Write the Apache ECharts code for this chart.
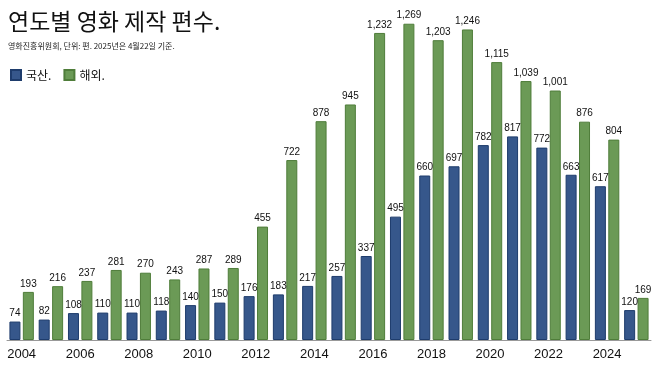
<!DOCTYPE html>
<html><head><meta charset="utf-8">
<script src="https://cdn.jsdelivr.net/npm/echarts@6/dist/echarts.min.js"></script>
<style>html,body{margin:0;padding:0;background:#fff}#c{width:658px;height:370px}</style>
</head><body><div id="c"></div>
<script>
const years = ['2004','2005','2006','2007','2008','2009','2010','2011','2012','2013','2014','2015','2016','2017','2018','2019','2020','2021','2022','2023','2024','2025'];
const domestic = [74,82,108,110,110,118,140,150,176,183,217,257,337,495,660,697,782,817,772,663,617,120];
const overseas = [193,216,237,281,270,243,287,289,455,722,878,945,1232,1269,1203,1246,1115,1039,1001,876,804,169];
const titleText = '연도별 영화 제작 편수.';
const subtitleText = '영화진흥위원회, 단위: 편. 2025년은 4월22일 기준.';
const seriesNames = ['국산.', '해외.'];

const font = '"Liberation Sans", Arial, "Noto Sans CJK KR", sans-serif';
const chart = echarts.init(document.getElementById('c'), null, {renderer: 'canvas'});
const fmt = p => p.value.toLocaleString('en-US');
chart.setOption({
  animation: false,
  textStyle: {fontFamily: font},
  title: {
    text: titleText, subtext: subtitleText, left: 3, top: 5, itemGap: 9,
    textStyle: {fontSize: 23, fontWeight: 'normal', color: '#111', fontFamily: '"Noto Sans CJK KR", sans-serif'},
    subtextStyle: {fontSize: 8, color: '#222', fontFamily: '"Noto Sans CJK KR", sans-serif'}
  },
  legend: {
    left: 5, top: 64, itemWidth: 10, itemHeight: 10, itemGap: 12,
    icon: 'rect',
    textStyle: {fontSize: 12, color: '#111', fontFamily: '"Noto Sans CJK KR", sans-serif'},
    data: seriesNames
  },
  grid: {left: 7, right: 7, top: 16, bottom: 30},
  xAxis: {
    type: 'category', data: years,
    axisLine: {lineStyle: {color: '#999'}},
    axisTick: {show: false},
    axisLabel: {interval: 1, fontSize: 13, color: '#111', margin: 8}
  },
  yAxis: {type: 'value', min: 0, max: 1300, show: false, splitLine: {show: false}},
  series: [
    {name: seriesNames[0], type: 'bar', data: domestic, barWidth: 11, barGap: '22%',
     itemStyle: {color: '#36578b', borderColor: '#1e3c6c', borderWidth: 1},
     label: {show: true, position: 'top', fontSize: 10, color: '#111', distance: 3, formatter: fmt}},
    {name: seriesNames[1], type: 'bar', data: overseas, barWidth: 11,
     itemStyle: {color: '#6b9a56', borderColor: '#4f7d3a', borderWidth: 1},
     label: {show: true, position: 'top', fontSize: 10, color: '#111', distance: 3, formatter: fmt}}
  ]
});
</script></body></html>
